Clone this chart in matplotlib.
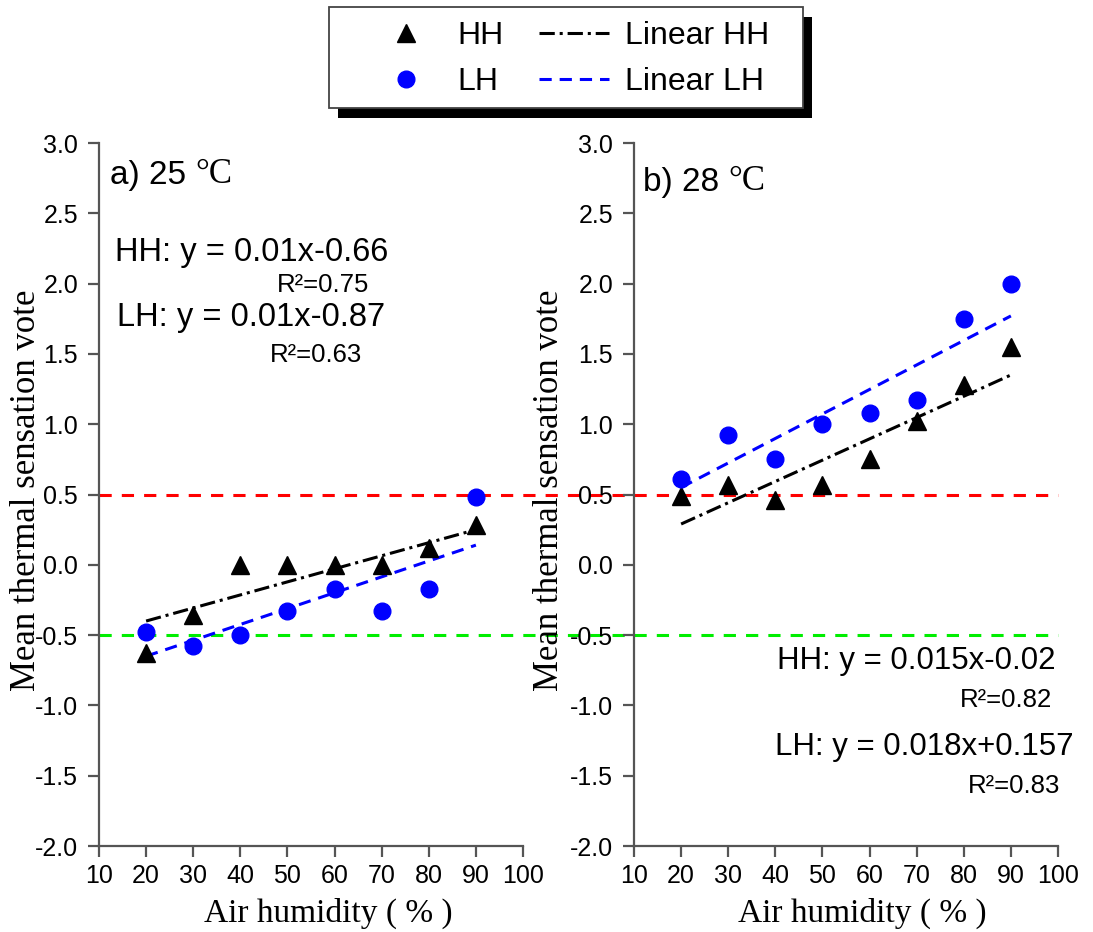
import matplotlib
matplotlib.use("Agg")
import matplotlib.pyplot as plt
from matplotlib.patches import Rectangle

plt.rcParams['font.family'] = ['Liberation Sans', 'DejaVu Sans']
plt.rcParams['axes.unicode_minus'] = False

# data
humidity = [20, 30, 40, 50, 60, 70, 80, 90]
hh_25 = [-0.63, -0.36, 0.0, 0.0, 0.0, 0.0, 0.12, 0.28]
lh_25 = [-0.48, -0.58, -0.50, -0.33, -0.17, -0.33, -0.17, 0.48]
hh_28 = [0.49, 0.57, 0.46, 0.57, 0.75, 1.02, 1.28, 1.55]
lh_28 = [0.61, 0.92, 0.75, 1.00, 1.08, 1.17, 1.75, 2.00]

fit_x = [20, 90]
fit_hh_25 = [-0.40, 0.25]
fit_lh_25 = [-0.65, 0.14]
fit_hh_28 = [0.29, 1.35]
fit_lh_28 = [0.55, 1.77]

x_ticks = [10, 20, 30, 40, 50, 60, 70, 80, 90, 100]
y_ticks = [-2.0, -1.5, -1.0, -0.5, 0.0, 0.5, 1.0, 1.5, 2.0, 2.5, 3.0]

W, H = 1093, 932
fig = plt.figure(figsize=(W / 100, H / 100), dpi=100)

serif = ['Liberation Serif', 'DejaVu Serif']


def setup(ax):
    ax.set_xlim(10, 100)
    ax.set_ylim(-2.0, 3.0)
    ax.set_xticks(x_ticks)
    ax.set_yticks(y_ticks)
    ax.set_yticklabels(['%.1f' % v for v in y_ticks])
    for s in ['top', 'right']:
        ax.spines[s].set_visible(False)
    for s in ['left', 'bottom']:
        ax.spines[s].set_color('#555555')
        ax.spines[s].set_linewidth(1.6)
    ax.tick_params(direction='out', length=8, width=1.6, color='#555555',
                   labelsize=18)
    ax.tick_params(axis='x', pad=5)
    ax.tick_params(axis='y', pad=7)


def draw_panel(ax, hh, lh, fhh, flh, line_end):
    ax.plot([10, line_end], [0.5, 0.5], color='#ff0000', lw=2.2,
            dashes=(4, 3.3), clip_on=False, zorder=1)
    ax.plot([10, line_end], [-0.5, -0.5], color='#00ee00', lw=2.2,
            dashes=(4, 3.3), clip_on=False, zorder=1)
    p1, = ax.plot(humidity, hh, ls='none', marker='^', ms=13, color='black', zorder=3)
    p2, = ax.plot(humidity, lh, ls='none', marker='o', ms=12, color='#0000ff', zorder=3)
    l1, = ax.plot(fit_x, fhh, color='black', lw=2.2, dashes=(5, 1.6, 1, 1.6), zorder=2)
    l2, = ax.plot(fit_x, flh, color='#0000ff', lw=2.2, dashes=(4, 2.6), zorder=2)
    return p1, p2, l1, l2


def panel_label(ax, x, y, txt):
    t = ax.text(x, y, txt, fontsize=24, va='baseline', ha='left')
    ax.annotate('°C', xy=(1, 0), xycoords=t, xytext=(7, 0),
                textcoords='offset points', fontsize=25, family=serif,
                va='bottom', ha='left')


axL = fig.add_axes([99 / W, 1 - 846 / H, 424 / W, 703 / H])
axR = fig.add_axes([634 / W, 1 - 846 / H, 424 / W, 703 / H])
setup(axL)
setup(axR)

handles = draw_panel(axL, hh_25, lh_25, fit_hh_25, fit_lh_25, 124)
draw_panel(axR, hh_28, lh_28, fit_hh_28, fit_lh_28, 100)

panel_label(axL, 12.3, 2.71, 'a) 25')
axL.text(13.4, 2.16, 'HH: y = 0.01x-0.66', fontsize=23.5, va='baseline')
axL.text(47.8, 1.94, 'R²=0.75', fontsize=18.5, va='baseline')
axL.text(13.8, 1.70, 'LH: y = 0.01x-0.87', fontsize=23.5, va='baseline')
axL.text(46.3, 1.44, 'R²=0.63', fontsize=18.5, va='baseline')

panel_label(axR, 11.9, 2.66, 'b) 28')
axR.text(40.4, -0.74, 'HH: y = 0.015x-0.02', fontsize=22.5, va='baseline')
axR.text(79.2, -1.01, 'R²=0.82', fontsize=18.5, va='baseline')
axR.text(39.9, -1.35, 'LH: y = 0.018x+0.157', fontsize=22.5, va='baseline')
axR.text(80.9, -1.62, 'R²=0.83', fontsize=18.5, va='baseline')

# axis titles
for cx in [27, 550]:
    fig.text(cx / W, 1 - 490 / H, 'Mean thermal sensation vote', rotation=90,
             ha='center', va='center', fontsize=25, family=serif)
for cx in [328, 862]:
    fig.text(cx / W, 1 - 922 / H, 'Air humidity ( % )', ha='center',
             va='baseline', fontsize=24, family=serif)

# legend box with solid shadow
fig.patches.append(Rectangle((338 / W, 1 - 118 / H), 474 / W, 101 / H,
                             transform=fig.transFigure, facecolor='black',
                             edgecolor='none', zorder=5))
fig.patches.append(Rectangle((329 / W, 1 - 108 / H), 474 / W, 101 / H,
                             transform=fig.transFigure, facecolor='white',
                             edgecolor='#444444', lw=1.3, zorder=6))
leg = fig.legend(handles, ['HH', 'LH', 'Linear HH', 'Linear LH'], ncol=2,
                 loc='center', bbox_to_anchor=(570 / W, 1 - 59 / H),
                 frameon=False, fontsize=23, handlelength=2.2,
                 handletextpad=0.5, columnspacing=1.1, labelspacing=0.5)
leg.set_zorder(7)

fig.savefig('out.png', dpi=100)
